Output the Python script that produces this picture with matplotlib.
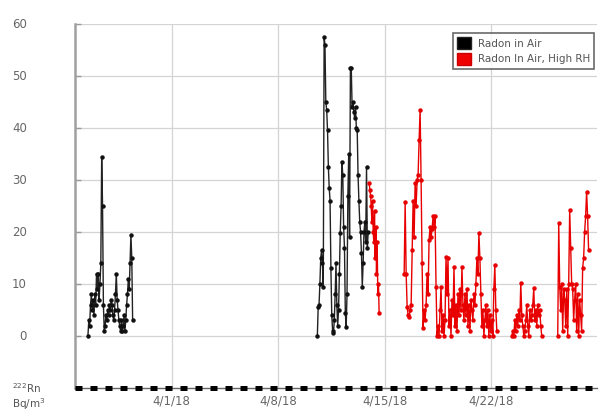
import numpy as np
import pandas as pd
import matplotlib
matplotlib.use("Agg")
import matplotlib.pyplot as plt
import matplotlib.transforms as mtransforms
from matplotlib.patches import Patch

# ---------------- data ----------------
# Radon in Air (black), segment A
a_start, a_end = "2018-03-26 11:40", "2018-03-29 10:15"
a_vals = [0, 3, 2, 6, 8, 5, 7, 4, 8, 6, 12, 9, 12, 7, 10, 14, 34.5, 25, 6, 1,
          2, 4, 3, 5, 4, 6, 5, 7, 6, 4, 3, 5, 8, 12, 7, 5, 3, 2, 1, 3,
          1, 2, 4, 1, 3, 6, 8, 11, 9, 14, 19.5, 15, 3]

# Radon in Air (black), segment B
b_start, b_end = "2018-04-10 13:55", "2018-04-13 22:15"
b_vals = [0, 5.6, 6, 10, 15, 16.5, 14, 9.5,
          57.5, 56, 45, 43.5, 39.6, 32.5, 28.5, 26,
          13, 4, 1, 0.5, 3, 8, 14, 6, 2,
          5, 12, 19.8, 25, 33.5, 31, 21, 17,
          4.4, 1.8, 8, 27, 35, 19,
          51.5, 51.5, 44, 45, 43, 42, 44, 40, 39.6, 31,
          26, 22, 20, 16, 9.5, 14, 20, 22, 18, 32.5, 17, 20]

# Radon in Air, High RH (red)
r1_start, r1_end = "2018-04-13 23:50", "2018-04-14 15:30"
r1_vals = [29.4, 28, 27, 25, 22, 26, 20, 18, 24, 15, 21, 12, 18, 8, 10, 4.4]

r2_start, r2_end = "2018-04-16 07:00", "2018-04-22 09:20"
r2_vals = [12, 25.8, 12, 5.6, 4, 3.7, 5, 6, 16.5, 26, 19, 29.4, 25, 30, 31, 37.7,
           43.5, 30, 14, 1.5, 5, 3, 6, 12, 8, 18.5, 21, 19, 20.5, 23, 21, 23,
           9.5, 0, 2, 0, 5, 9.5, 1, 4, 0, 3, 15.2, 8, 15, 2, 5, 0, 7, 4,
           13.3, 2, 6, 1, 8, 4, 9, 5, 13.3, 6, 3, 8, 4, 9, 2, 6, 1, 7, 5, 3,
           8, 6, 10, 15, 12, 19.8, 15, 8, 2, 5, 0, 3, 6, 2, 5, 0, 4, 1, 3, 0,
           9, 13.6, 5, 1]

r3_start, r3_end = "2018-04-23 09:00", "2018-04-25 08:15"
r3_vals = [0, 1, 0, 3, 1, 4, 2, 5, 3, 10.2, 4, 2, 0, 1, 3, 6, 2, 0, 5, 3,
           4, 6, 9.2, 3, 5, 2, 6, 4, 5, 2, 0]

r4_start, r4_end = "2018-04-26 09:30", "2018-04-28 10:15"
r4_vals = [0, 21.7, 9.5, 5, 10, 1, 9, 7, 2, 9, 0, 10, 24.2, 17, 10, 9, 3, 7, 10, 1,
           8, 0, 7, 4, 1, 13, 15, 20, 23, 27.7, 23, 16.5]

x_ticks = ["2018-04-01", "2018-04-08", "2018-04-15", "2018-04-22"]
x_tick_labels = ["4/1/18", "4/8/18", "4/15/18", "4/22/18"]
y_ticks = [0, 10, 20, 30, 40, 50, 60]
series_names = ["Radon in Air", "Radon In Air, High RH"]


def seg(start, end, vals):
    t = pd.date_range(start, end, periods=len(vals))
    return t, np.array(vals, dtype=float)


def join(*segs):
    ts, vs = [], []
    for t, v in segs:
        ts.append(t.values)
        vs.append(v)
        ts.append(np.array([t.values[-1] + np.timedelta64(1, "h")]))
        vs.append(np.array([np.nan]))
    return np.concatenate(ts), np.concatenate(vs)


bt, bv = join(seg(a_start, a_end, a_vals), seg(b_start, b_end, b_vals))
rt, rv = join(seg(r1_start, r1_end, r1_vals), seg(r2_start, r2_end, r2_vals),
              seg(r3_start, r3_end, r3_vals), seg(r4_start, r4_end, r4_vals))

# ---------------- figure ----------------
W, H = 599, 412
fig = plt.figure(figsize=(W / 100, H / 100), dpi=100)
ax = fig.add_axes([75 / W, 1 - 388 / H, (597 - 75) / W, (388 - 24) / H])

ax.plot(bt, bv, color="#222222", lw=1.0, marker="o", ms=2.2, mec="#111111",
        mfc="#111111", zorder=3)
ax.plot(rt, rv, color="#e80000", lw=1.0, marker="o", ms=2.2, mec="#e80000",
        mfc="#e80000", zorder=3)

ax.set_ylim(-10, 60)
ax.set_xlim(pd.Timestamp("2018-03-25 15:15"), pd.Timestamp("2018-04-28 23:30"))

ax.set_yticks(y_ticks)
ax.set_xticks(pd.to_datetime(x_ticks))
ax.set_xticklabels(x_tick_labels)

ax.grid(True, color="#d4d4d4", lw=0.9)
ax.set_axisbelow(True)

for s in ["top", "right"]:
    ax.spines[s].set_visible(False)
ax.spines["left"].set_color("#a0a0a0")
ax.spines["left"].set_linewidth(1.8)
ax.spines["bottom"].set_color("#666666")
ax.spines["bottom"].set_linewidth(1.0)
# dashed thick bottom axis
ax.axhline(-10, color="black", lw=3.6, ls=(0, (1.4, 1.6)), zorder=4, clip_on=False)

ax.tick_params(axis="y", direction="in", length=4, width=1, color="#999999",
               labelleft=False)
ax.tick_params(axis="x", length=0, labelsize=8.5, labelcolor="#666666", pad=5)

# y tick labels placed at a fixed distance left of the axis
ylab_tr = mtransforms.blended_transform_factory(fig.transFigure, ax.transData)
for v in y_ticks:
    ax.text(27 / W, v, str(v), transform=ylab_tr, ha="right", va="center",
            fontsize=8.5, color="#666666", clip_on=False)

handles = [Patch(facecolor="black", edgecolor="#222222"),
           Patch(facecolor="#ee0000", edgecolor="#cc0000")]
leg = ax.legend(handles, series_names, loc="upper right",
                bbox_to_anchor=(594 / W, 1 - 33 / H), bbox_transform=fig.transFigure,
                fontsize=7.5, frameon=True, fancybox=False, handlelength=1.4,
                handleheight=1.4, handletextpad=0.6, borderpad=0.4, labelspacing=0.35,
                borderaxespad=0)
leg.get_frame().set_edgecolor("#444444")
leg.get_frame().set_linewidth(1.2)
for t in leg.get_texts():
    t.set_color("#555555")

fig.text(12 / W, 1 - 388 / H, "$^{222}$Rn", fontsize=7.5, color="#555555",
         ha="left", va="center")
fig.text(12 / W, 1 - 404 / H, "Bq/m$^3$", fontsize=7.5, color="#555555",
         ha="left", va="center")

fig.savefig("out.png", dpi=100)
